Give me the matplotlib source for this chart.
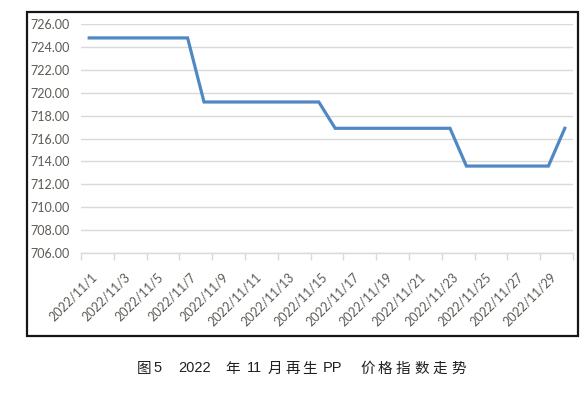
import matplotlib
matplotlib.use("Agg")
import matplotlib.pyplot as plt
from matplotlib.patches import Rectangle
from matplotlib.transforms import ScaledTranslation

dates = [f"2022/11/{d}" for d in range(1, 31)]
values = [724.8, 724.8, 724.8, 724.8, 724.8, 724.8, 724.8,
          719.2, 719.2, 719.2, 719.2, 719.2, 719.2, 719.2, 719.2,
          716.9, 716.9, 716.9, 716.9, 716.9, 716.9, 716.9, 716.9,
          713.6, 713.6, 713.6, 713.6, 713.6, 713.6,
          716.9]
yticks = [706, 708, 710, 712, 714, 716, 718, 720, 722, 724, 726]
caption_pieces = ["图", "5", "2022", "年", "11", "月", "再", "生", "PP",
                  "价", "格", "指", "数", "走", "势"]

W, H = 588, 397
fig = plt.figure(figsize=(W / 100, H / 100), dpi=100)
fig.patch.set_facecolor("white")

left, right, top, bottom = 81, 573, 24.2, 253
ax = fig.add_axes([left / W, 1 - bottom / H, (right - left) / W, (bottom - top) / H])
ax.set_facecolor("white")

x = list(range(len(values)))
ax.plot(x, values, color="#5088c4", linewidth=2.3, solid_joinstyle="miter", zorder=3)

ax.set_xlim(-0.5, len(values) - 0.5)
ax.set_ylim(yticks[0], yticks[-1])
ax.set_yticks(yticks)
ax.set_yticklabels([f"{v:.2f}" for v in yticks])
ax.yaxis.grid(True, color="#d9d9d9", linewidth=1.0)
ax.set_axisbelow(True)

label_pos = x[::2]
ax.set_xticks(label_pos)
ax.set_xticklabels([dates[i] for i in label_pos], rotation=45, ha="right",
                   va="center", rotation_mode="anchor")
ax.set_xticks([i - 0.5 for i in range(0, len(values) + 1, 2)], minor=True)
ax.tick_params(axis="x", which="major", length=0, pad=16)
ax.tick_params(axis="x", which="minor", length=5, color="#d9d9d9", width=1)
ax.tick_params(axis="y", length=0, pad=8)

lab_color = "#5e5a55"
shift = ScaledTranslation(6 / 100, 0, fig.dpi_scale_trans)
for lab in ax.get_xticklabels():
    lab.set_transform(lab.get_transform() + shift)
for lab in ax.get_xticklabels() + ax.get_yticklabels():
    lab.set_fontfamily("Lato")
    lab.set_fontsize(9)
    lab.set_color(lab_color)

for s in ["left", "right", "top"]:
    ax.spines[s].set_visible(False)
ax.spines["bottom"].set_color("#d9d9d9")
ax.spines["bottom"].set_linewidth(1.0)

# outer frame
fig.patches.append(Rectangle((27 / W, 1 - 336 / H), (578 - 27) / W, (336 - 12) / H,
                             transform=fig.transFigure, fill=False,
                             edgecolor="#1a1414", linewidth=1.6))

# caption, laid out piece by piece (letter-spaced as in the source)
cap_fam = ["Liberation Sans", "Noto Sans CJK SC"]
cap_size = 10.5
cap_x = [137, 153, 178, 225, 247, 268, 285, 302, 323, 360, 378, 396, 414, 433, 451]
cap_baseline = 372.5
for piece, px in zip(caption_pieces, cap_x):
    fig.text(px / W, 1 - cap_baseline / H, piece, ha="left", va="baseline",
             fontsize=cap_size, color="#231f20", family=cap_fam)

fig.savefig("out.png", dpi=100)
